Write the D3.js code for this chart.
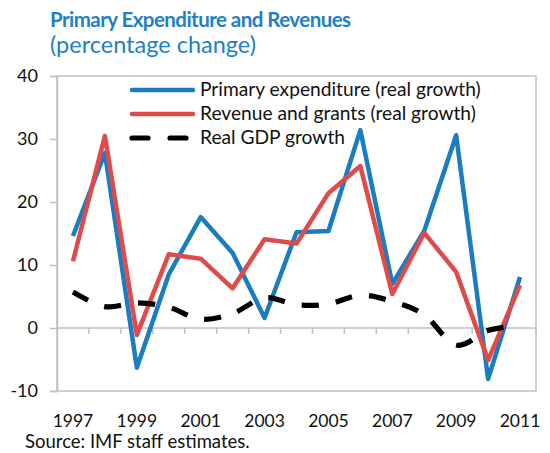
<!DOCTYPE html>
<html>
<head>
<meta charset="utf-8">
<script src="https://cdn.jsdelivr.net/npm/d3@7"></script>
<style>
  body { margin: 0; background: #fff; }
  text { font-family: Lato, "Open Sans", sans-serif; fill: #111; }
</style>
</head>
<body>
<script>
// chart data
const years = [1997, 1998, 1999, 2000, 2001, 2002, 2003, 2004, 2005, 2006, 2007, 2008, 2009, 2010, 2011];
const primaryExp = [14.6, 27.8, -6.3, 8.5, 17.6, 11.9, 1.6, 15.2, 15.4, 31.4, 7.0, 15.4, 30.6, -8.1, 8.1];
const revenue = [10.6, 30.5, -1.1, 11.7, 11.0, 6.3, 14.1, 13.4, 21.4, 25.7, 5.4, 15.1, 8.9, -5.1, 6.8];
const gdp = [5.7, 3.4, 4.0, 3.3, 1.4, 2.3, 4.8, 3.7, 3.8, 5.2, 4.2, 2.1, -2.7, -0.4, 0.4];
const yTicks = [-10, 0, 10, 20, 30, 40];
const xLabels = [1997, 1999, 2001, 2003, 2005, 2007, 2009, 2011];

const seriesList = [
  { name: "Primary expenditure (real growth)", values: primaryExp, color: "#1a7dc0", width: 4.5, dashed: false, curve: d3.curveLinear },
  { name: "Revenue and grants (real growth)", values: revenue, color: "#e04a4a", width: 4.5, dashed: false, curve: d3.curveLinear },
  { name: "Real GDP growth", values: gdp, color: "#000", width: 5.2, dashed: true, curve: d3.curveCatmullRom.alpha(0) }
];

const width = 550, height = 453;
const plotL = 57, plotR = 536, plotT = 76, plotB = 391;
const grey = "#c0c0c0";

const svg = d3.select("body").append("svg")
  .attr("width", width)
  .attr("height", height);

const x = d3.scaleBand().domain(years).range([plotL, plotR]);
const y = d3.scaleLinear().domain([-10, 40]).range([plotB, plotT]);

// title
svg.append("text")
  .attr("x", 50).attr("y", 27)
  .style("font-size", "20.5px").style("font-weight", "bold").style("fill", "#1f80c4")
  .style("letter-spacing", "-0.55px")
  .text("Primary Expenditure and Revenues");
svg.append("text")
  .attr("x", 50).attr("y", 53)
  .style("font-size", "23.5px").style("fill", "#1f80c4")
  .text("(percentage change)");

// plot frame
svg.append("rect")
  .attr("x", plotL).attr("y", plotT)
  .attr("width", plotR - plotL).attr("height", plotB - plotT)
  .attr("fill", "none").attr("stroke", grey).attr("stroke-width", 1.5);

// y axis
const yAxis = svg.append("g")
  .attr("transform", `translate(${plotL},0)`)
  .call(d3.axisLeft(y).tickValues(yTicks).tickSize(7).tickPadding(12)
    .tickFormat(d => String(d)));
yAxis.select(".domain").attr("stroke", grey).attr("stroke-width", 1.5);
yAxis.selectAll(".tick line").attr("stroke", grey).attr("stroke-width", 1.5);
yAxis.selectAll(".tick text").style("font-size", "18px").style("font-family", "Lato, sans-serif").attr("fill", "#111");

// x axis sits on the zero line, ticks between categories
const boundaries = years.slice(1).map(d => x(d)).concat([plotR]);
const zeroAxis = svg.append("g");
zeroAxis.append("line")
  .attr("x1", plotL).attr("x2", plotR)
  .attr("y1", y(0)).attr("y2", y(0))
  .attr("stroke", grey).attr("stroke-width", 1.5);
zeroAxis.selectAll(".xt").data(boundaries).enter().append("line")
  .attr("x1", d => d).attr("x2", d => d)
  .attr("y1", y(0)).attr("y2", y(0) + 6)
  .attr("stroke", grey).attr("stroke-width", 1.5);

svg.selectAll(".xl").data(xLabels).enter().append("text")
  .attr("x", d => x(d) + x.bandwidth() / 2)
  .attr("y", 427)
  .attr("text-anchor", "middle")
  .style("font-size", "17.5px")
  .text(d => d);

// lines
seriesList.forEach(s => {
  const line = d3.line()
    .x((d, i) => x(years[i]) + x.bandwidth() / 2)
    .y(d => y(d))
    .curve(s.curve);
  const p = svg.append("path")
    .datum(s.values)
    .attr("d", line)
    .attr("fill", "none")
    .attr("stroke", s.color)
    .attr("stroke-width", s.width)
    .attr("stroke-linejoin", "round");
  if (s.dashed) {
    // dash and gap about 17.5px each, fitted so the line ends in a gap
    const len = p.node().getTotalLength();
    const period = len / Math.round(len / 35);
    p.attr("stroke-dasharray", `${period / 2},${period / 2}`);
  }
});

// legend
const legend = svg.append("g");
seriesList.forEach((s, i) => {
  const ly = 90 + i * 24;
  legend.append("line")
    .attr("x1", 132).attr("x2", 193)
    .attr("y1", ly).attr("y2", ly)
    .attr("stroke", s.color)
    .attr("stroke-width", s.width)
    .attr("stroke-linecap", "round")
    .attr("stroke-dasharray", s.dashed ? "16,22" : null);
  legend.append("text")
    .attr("x", 200).attr("y", ly + 6)
    .style("font-size", "19.2px")
    .text(s.name);
});

// source
svg.append("text")
  .attr("x", 25).attr("y", 448)
  .style("font-size", "18.5px")
  .text("Source: IMF staff estimates.");
</script>
</body>
</html>
